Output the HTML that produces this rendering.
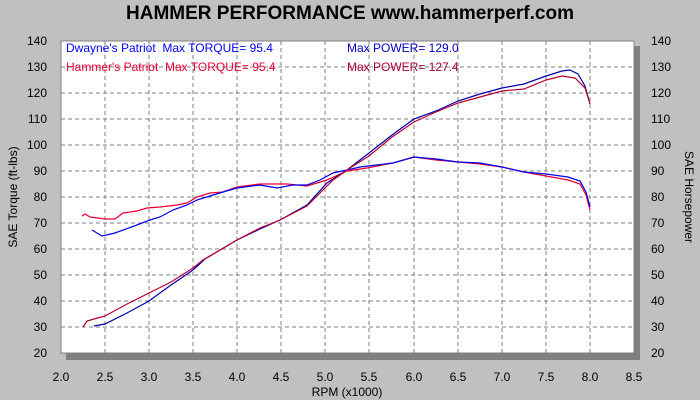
<!DOCTYPE html>
<html><head><meta charset="utf-8"><style>
html,body{margin:0;padding:0;background:#c0c0c0;}
svg{display:block;font-family:"Liberation Sans",Arial,sans-serif;}
</style></head><body>
<svg width="700" height="400" xmlns="http://www.w3.org/2000/svg">
<rect width="700" height="400" fill="#c0c0c0"/>
<text x="350" y="19" text-anchor="middle" font-size="19" font-weight="bold" fill="#000">HAMMER PERFORMANCE www.hammerperf.com</text>
<rect x="66" y="46" width="574" height="314" fill="#808080"/>
<rect x="61" y="41" width="573" height="312" fill="#fff" stroke="#808080" stroke-width="1"/>
<g stroke="#808080" stroke-dasharray="4,3" stroke-width="1">
<line x1="61" x2="634" y1="67" y2="67"/><line x1="61" x2="634" y1="93" y2="93"/>
<line x1="61" x2="634" y1="119" y2="119"/><line x1="61" x2="634" y1="145" y2="145"/>
<line x1="61" x2="634" y1="171" y2="171"/><line x1="61" x2="634" y1="197" y2="197"/>
<line x1="61" x2="634" y1="223" y2="223"/><line x1="61" x2="634" y1="249" y2="249"/>
<line x1="61" x2="634" y1="275" y2="275"/><line x1="61" x2="634" y1="301" y2="301"/>
<line x1="61" x2="634" y1="327" y2="327"/>
<line y1="41" y2="353" x1="105" x2="105"/><line y1="41" y2="353" x1="149" x2="149"/>
<line y1="41" y2="353" x1="193" x2="193"/><line y1="41" y2="353" x1="237" x2="237"/>
<line y1="41" y2="353" x1="281" x2="281"/><line y1="41" y2="353" x1="325" x2="325"/>
<line y1="41" y2="353" x1="369" x2="369"/><line y1="41" y2="353" x1="414" x2="414"/>
<line y1="41" y2="353" x1="458" x2="458"/><line y1="41" y2="353" x1="502" x2="502"/>
<line y1="41" y2="353" x1="546" x2="546"/><line y1="41" y2="353" x1="590" x2="590"/>
</g>
<g font-size="12" fill="#000" text-anchor="end">
<text x="47" y="45">140</text><text x="47" y="71">130</text><text x="47" y="97">120</text>
<text x="47" y="123">110</text><text x="47" y="149">100</text><text x="47" y="175">90</text>
<text x="47" y="201">80</text><text x="47" y="227">70</text><text x="47" y="253">60</text>
<text x="47" y="279">50</text><text x="47" y="305">40</text><text x="47" y="331">30</text>
<text x="47" y="357">20</text>
</g>
<g font-size="12" fill="#000" text-anchor="start">
<text x="651" y="45">140</text><text x="651" y="71">130</text><text x="651" y="97">120</text>
<text x="651" y="123">110</text><text x="651" y="149">100</text><text x="651" y="175">90</text>
<text x="651" y="201">80</text><text x="651" y="227">70</text><text x="651" y="253">60</text>
<text x="651" y="279">50</text><text x="651" y="305">40</text><text x="651" y="331">30</text>
<text x="651" y="357">20</text>
</g>
<g font-size="12" fill="#000" text-anchor="middle">
<text x="61" y="381">2.0</text><text x="105" y="381">2.5</text><text x="149" y="381">3.0</text>
<text x="193" y="381">3.5</text><text x="237" y="381">4.0</text><text x="281" y="381">4.5</text>
<text x="325" y="381">5.0</text><text x="369" y="381">5.5</text><text x="414" y="381">6.0</text>
<text x="458" y="381">6.5</text><text x="502" y="381">7.0</text><text x="546" y="381">7.5</text>
<text x="590" y="381">8.0</text><text x="634" y="381">8.5</text>
<text x="347" y="396">RPM (x1000)</text>
<text transform="translate(17,197) rotate(-90)">SAE Torque (ft-lbs)</text>
<text transform="translate(685,197) rotate(90)">SAE Horsepower</text>
</g>
<g font-size="12">
<text x="66" y="52" fill="#0000ff" xml:space="preserve">Dwayne's Patriot  Max TORQUE= 95.4</text>
<text x="347" y="52" fill="#0000cc">Max POWER= 129.0</text>
<text x="66" y="71" fill="#ee0033" xml:space="preserve">Hammer's Patriot  Max TORQUE= 95.4</text>
<text x="347" y="71" fill="#aa0033">Max POWER= 127.4</text>
</g>
<g fill="none" stroke-width="1.2">
<!-- torque red -->
<polyline stroke="#ee0033" points="82,216 85,214 90,217 105,219 115,219 123,213 137,211 147,208 160,207 177,205 187,203 197,197 210,193 223,192 237,187 260,184 287,184 307,186 327,180 347,171 367,168 393,163 414,157 436,160 458,162 480,164 502,167 524,172 546,176 568,180 580,184 586,195 590,210"/>
<!-- torque blue -->
<polyline stroke="#0000ee" points="92,230 102,236 115,233 137,225 150,220 160,217 173,210 187,205 197,200 210,196 223,192 237,188 260,185 277,188 293,185 307,185 320,180 333,173 347,170 360,167 393,163 414,157 436,159 458,162 480,163 502,167 524,172 546,174 568,177 580,181 586,192 590,207"/>
<!-- power blue -->
<polyline stroke="#0000aa" points="94,326 105,324 127,313 149,301 171,285 193,270 205,259 237,240 260,229 280,220 307,205 327,183 347,170 369,153 392,135 414,119 436,111 458,101 480,94 502,88 524,84 546,76 562,71 570,70 578,74 585,86 590,104"/>
<!-- power red -->
<polyline stroke="#bb0033" points="83,327 87,321 94,319 105,316 127,304 149,293 171,282 193,268 203,260 237,240 260,228 280,220 307,206 333,180 350,168 369,156 392,137 414,122 436,112 458,103 480,97 502,91 524,89 546,80 562,76 575,78 585,88 590,104"/>
</g>
</svg>
</body></html>
